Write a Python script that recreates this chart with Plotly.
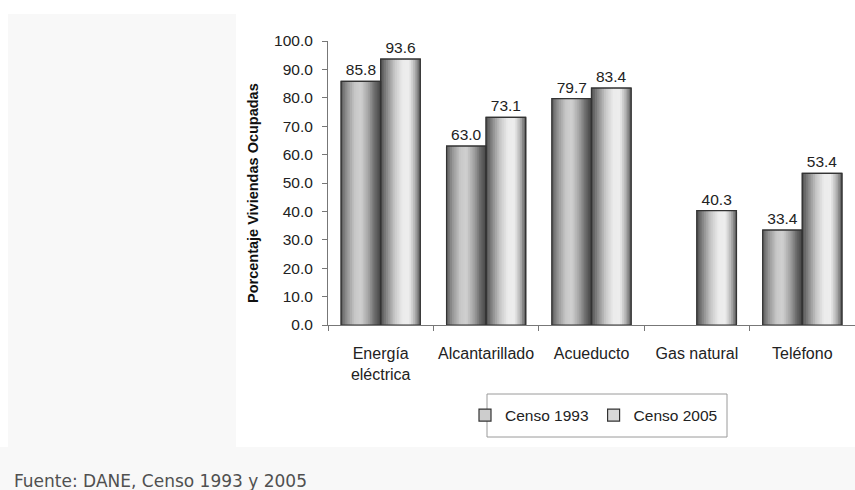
import plotly.graph_objects as go

# Servicios públicos en viviendas ocupadas (%)
categorias = ["Energía<br>eléctrica", "Alcantarillado", "Acueducto", "Gas natural", "Teléfono"]
censo_1993 = [85.8, 63.0, 79.7, None, 33.4]
censo_2005 = [93.6, 73.1, 83.4, 40.3, 53.4]
ticks_y = [0, 10, 20, 30, 40, 50, 60, 70, 80, 90, 100]

# Page geometry (px)
W, H = 855, 490
ML, MR, MT, MB = 328, 0, 41, 165
PW, PH = W - ML - MR, H - MT - MB


def px_x(p):
    return (p - ML) / PW


def px_y(p):
    return (H - MB - p) / PH


def hex_to_rgb(h):
    h = h.lstrip("#")
    return [int(h[i:i + 2], 16) for i in (0, 2, 4)]


def shade(stops, t):
    for (t0, c0), (t1, c1) in zip(stops, stops[1:]):
        if t0 <= t <= t1:
            a = (t - t0) / (t1 - t0) if t1 > t0 else 0
            r0, r1 = hex_to_rgb(c0), hex_to_rgb(c1)
            c = [round(r0[k] + (r1[k] - r0[k]) * a) for k in range(3)]
            return "rgb({},{},{})".format(*c)
    return stops[-1][1]


# Cylinder-like shading across each bar
grad_1993 = [(0, "#5e5e5e"), (0.15, "#959595"), (0.35, "#c8c8c8"), (0.5, "#d0d0d0"),
             (0.7, "#a0a0a0"), (0.85, "#6a6a6a"), (1, "#444444")]
grad_2005 = [(0, "#505050"), (0.15, "#858585"), (0.35, "#c6c6c6"), (0.55, "#ececec"),
             (0.72, "#ededed"), (0.87, "#b0b0b0"), (1, "#5a5a5a")]

BW = 0.375  # bar width in category units
N = 22
series = [("Censo 1993", censo_1993, -BW, grad_1993),
          ("Censo 2005", censo_2005, 0.0, grad_2005)]

fig = go.Figure()

for name, vals, off, grad in series:
    # base bar (also supplies the legend swatch)
    fig.add_trace(go.Bar(
        x=categorias, y=vals, name=name, width=BW, offset=off,
        marker=dict(color=shade(grad, 0.45), line=dict(color="#333333", width=1.2)),
        showlegend=True, hoverinfo="skip"))
    # shading strips
    sw = BW / N
    for i in range(N):
        t = (i + 0.5) / N
        fig.add_trace(go.Bar(
            x=categorias, y=vals, width=sw * 1.35, offset=off + i * sw,
            marker=dict(color=shade(grad, t), line=dict(width=0)),
            showlegend=False, hoverinfo="skip"))

for name, vals, off, grad in series:
    # outline + value labels
    fig.add_trace(go.Bar(
        x=categorias, y=vals, name=name, width=BW, offset=off,
        marker=dict(color="rgba(0,0,0,0)", line=dict(color="#333333", width=1.2)),
        texttemplate="%{y:.1f}", textposition="outside",
        textfont=dict(family="Liberation Sans, Arial", size=15.5, color="#222222"),
        cliponaxis=False, showlegend=False))

shapes = [
    # white card behind the chart on a light grey page
    dict(type="rect", xref="paper", yref="paper", layer="below",
         x0=px_x(236), x1=px_x(W), y0=px_y(447), y1=px_y(0),
         fillcolor="white", line=dict(width=0)),
    dict(type="rect", xref="paper", yref="paper", layer="below",
         x0=px_x(0), x1=px_x(W), y0=px_y(14), y1=px_y(0),
         fillcolor="white", line=dict(width=0)),
    dict(type="rect", xref="paper", yref="paper", layer="below",
         x0=px_x(0), x1=px_x(8), y0=px_y(447), y1=px_y(0),
         fillcolor="white", line=dict(width=0)),
    # legend frame
    dict(type="rect", xref="paper", yref="paper", layer="above",
         x0=px_x(487), x1=px_x(727), y0=px_y(437), y1=px_y(394),
         fillcolor="rgba(0,0,0,0)", line=dict(color="#9a9a9a", width=1)),
]

annotations = [
    dict(text="<b>Porcentaje Viviendas Ocupadas</b>", textangle=-90,
         xref="paper", yref="paper", x=px_x(253), y=px_y(193),
         xanchor="center", yanchor="middle", showarrow=False,
         font=dict(family="Liberation Sans, Arial", size=14.5, color="#111111")),
    dict(text="Fuente: DANE, Censo 1993 y 2005",
         xref="paper", yref="paper", x=px_x(12), y=px_y(481),
         xanchor="left", yanchor="middle", showarrow=False,
         font=dict(family="DejaVu Sans, Verdana", size=17, color="#505050")),
]

fig.update_layout(
    width=W, height=H,
    margin=dict(l=ML, r=MR, t=MT, b=MB, pad=0),
    paper_bgcolor="#f8f8f8", plot_bgcolor="white",
    barmode="overlay",
    font=dict(family="Liberation Sans, Arial", size=16, color="#222222"),
    shapes=shapes, annotations=annotations,
    legend=dict(orientation="h", x=px_x(594), y=px_y(415.5),
                xanchor="center", yanchor="middle",
                bgcolor="rgba(0,0,0,0)", borderwidth=0,
                font=dict(family="Liberation Sans, Arial", size=15.5, color="#222222")),
    xaxis=dict(type="category", range=[-0.5, 4.5], showgrid=False,
               showline=True, linecolor="#777777", linewidth=1,
               ticks="outside", tickson="boundaries", ticklen=5, tickcolor="#777777",
               ticklabelstandoff=14,
               tickfont=dict(family="Liberation Sans, Arial", size=16, color="#222222")),
    yaxis=dict(range=[0, 100], tickvals=ticks_y, tickformat=".1f", showgrid=False,
               zeroline=False, showline=True, linecolor="#777777", linewidth=1,
               ticks="outside", ticklen=5, tickcolor="#777777",
               ticklabelstandoff=6,
               tickfont=dict(family="Liberation Sans, Arial", size=15.5, color="#222222")),
)

fig.write_html("out.html")
